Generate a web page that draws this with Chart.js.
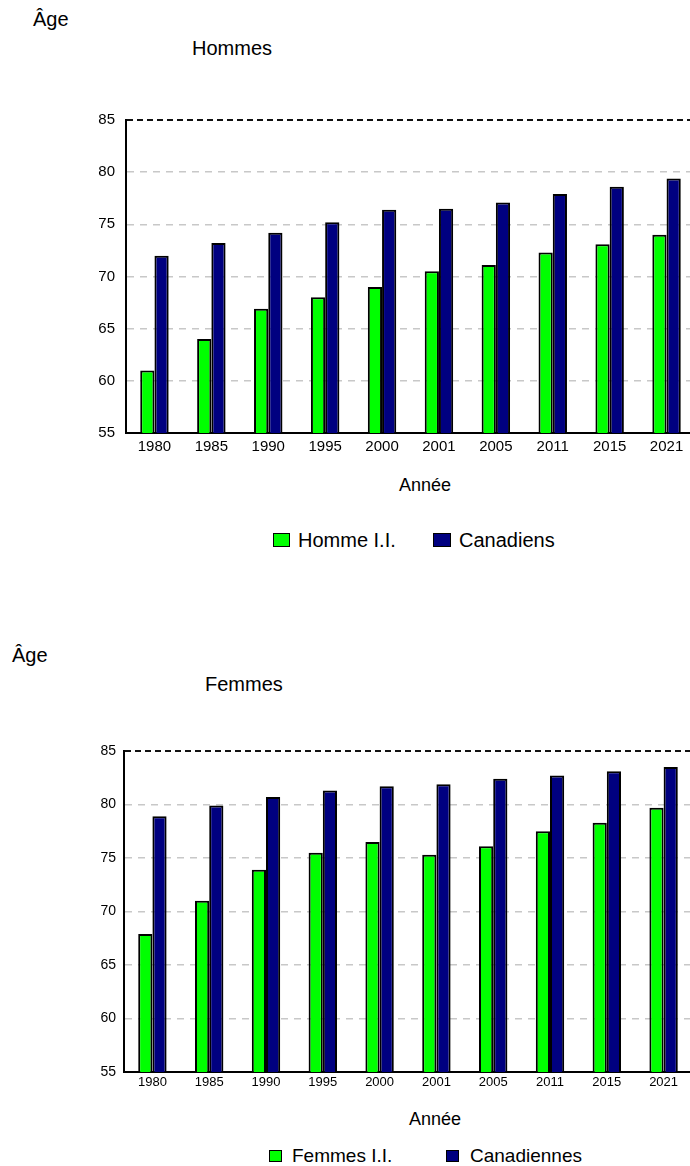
<!DOCTYPE html>
<html lang="fr">
<head>
<meta charset="utf-8">
<title>Espérance de vie</title>
<script src="https://cdn.jsdelivr.net/npm/chart.js@4.4.1/dist/chart.umd.min.js"></script>
<style>
  html, body { margin: 0; padding: 0; background: #fff; overflow: hidden; width: 690px; height: 1166px; }
  body { position: relative; font-family: "Liberation Sans", Arial, sans-serif; color: #000; }
  .txt { position: absolute; white-space: nowrap; }
  .big { font-size: 20px; line-height: 20px; }
  .axe { font-size: 18px; line-height: 18px; transform: translateX(-50%); }
  canvas { position: absolute; left: 0; }
  .item { position: absolute; display: flex; align-items: center; white-space: nowrap; }
  .item .box { display: inline-block; box-sizing: border-box; border: 1.5px solid #000; }
</style>
</head>
<body>

<div class="txt big" style="left:33px; top:9px;">Âge</div>
<div class="txt big" style="left:192px; top:38px;">Hommes</div>
<canvas id="chartHommes" width="700" height="470" style="top:0;"></canvas>
<div class="txt axe" style="left:425px; top:476px;">Année</div>
<div id="legendHommes"></div>

<div class="txt big" style="left:12px; top:645px;">Âge</div>
<div class="txt big" style="left:205px; top:674px;">Femmes</div>
<canvas id="chartFemmes" width="700" height="452" style="top:650px;"></canvas>
<div class="txt axe" style="left:435px; top:1110px;">Année</div>
<div id="legendFemmes"></div>

<script>
// données
const annees = ["1980", "1985", "1990", "1995", "2000", "2001", "2005", "2011", "2015", "2021"];
const hommesII = [61, 64, 66.9, 68, 69, 70.5, 71.1, 72.3, 73.1, 74];
const canadiens = [72, 73.2, 74.2, 75.2, 76.4, 76.5, 77.1, 77.9, 78.6, 79.4];
const femmesII = [67.9, 71, 73.9, 75.5, 76.5, 75.3, 76.1, 77.5, 78.3, 79.7];
const canadiennes = [78.9, 79.9, 80.7, 81.3, 81.7, 81.9, 82.4, 82.7, 83.1, 83.5];
const ticksAge = [55, 60, 65, 70, 75, 80, 85];

const VERT = "#00ff00";
const MARINE = "#000080";

function isTop(ctx) {
  return ctx.tick && ctx.tick.value === ticksAge[ticksAge.length - 1];
}

function makeChart(id, serieA, serieB, noms, cfg) {
  const ctx = document.getElementById(id).getContext("2d");
  return new Chart(ctx, {
    type: "bar",
    data: {
      labels: annees,
      datasets: [
        { label: noms[0], data: serieA, backgroundColor: VERT, borderColor: "#000", borderWidth: 2 },
        { label: noms[1], data: serieB, backgroundColor: MARINE, borderColor: "#000", borderWidth: 2 }
      ]
    },
    options: {
      responsive: false,
      animation: false,
      layout: { padding: cfg.padding },
      datasets: { bar: { categoryPercentage: 0.5, barPercentage: 1.0 } },
      plugins: { legend: { display: false }, tooltip: { enabled: false } },
      scales: {
        x: {
          grid: { display: false, drawTicks: false },
          border: { display: true, color: "#000", width: 2 },
          ticks: {
            color: "#000",
            font: { family: "Liberation Sans", size: cfg.xFont },
            padding: cfg.xPad,
            maxRotation: 0,
            autoSkip: false
          },
          afterFit: s => { s.height = cfg.xHeight; }
        },
        y: {
          min: ticksAge[0],
          max: ticksAge[ticksAge.length - 1],
          afterBuildTicks: s => { s.ticks = ticksAge.map(v => ({ value: v })); },
          afterFit: s => { s.width = cfg.yWidth; },
          grid: {
            drawTicks: false,
            color: c => isTop(c) ? "#111" : "#c8c8c8",
            lineWidth: c => isTop(c) ? 2 : 1.5
          },
          border: {
            display: true,
            color: "#000",
            width: 2,
            dash: c => isTop(c) ? [6, 4] : [7, 6]
          },
          ticks: {
            color: "#000",
            font: { family: "Liberation Sans", size: cfg.yFont },
            padding: cfg.yPad
          }
        }
      }
    }
  });
}

function makeLegend(id, chart, pos) {
  const el = document.getElementById(id);
  chart.data.datasets.forEach((ds, i) => {
    const p = pos[i];
    const item = document.createElement("div");
    item.className = "item";
    item.style.left = p.left + "px";
    item.style.top = p.top + "px";
    item.style.fontSize = p.font + "px";
    item.style.lineHeight = p.font + "px";
    const box = document.createElement("span");
    box.className = "box";
    box.style.width = p.bw + "px";
    box.style.height = p.bh + "px";
    box.style.background = ds.backgroundColor;
    box.style.marginRight = p.gap + "px";
    const lab = document.createElement("span");
    lab.textContent = ds.label;
    item.appendChild(box);
    item.appendChild(lab);
    el.appendChild(item);
  });
}

const chartH = makeChart("chartHommes", hommesII, canadiens, ["Homme I.I.", "Canadiens"], {
  padding: { top: 120, right: 5, left: 0, bottom: 0 },
  xFont: 15, xPad: 5, xHeight: 37,
  yFont: 15, yPad: 11, yWidth: 126
});

const chartF = makeChart("chartFemmes", femmesII, canadiennes, ["Femmes I.I.", "Canadiennes"], {
  padding: { top: 101, right: 8, left: 0, bottom: 0 },
  xFont: 13, xPad: 3, xHeight: 30,
  yFont: 14, yPad: 8, yWidth: 124
});

makeLegend("legendHommes", chartH, [
  { left: 273, top: 530, font: 20, bw: 17, bh: 14, gap: 8 },
  { left: 433, top: 530, font: 20, bw: 18, bh: 14, gap: 8 }
]);
makeLegend("legendFemmes", chartF, [
  { left: 269, top: 1146, font: 19, bw: 13, bh: 12, gap: 10 },
  { left: 446, top: 1146, font: 19, bw: 13, bh: 12, gap: 11 }
]);
</script>
</body>
</html>
